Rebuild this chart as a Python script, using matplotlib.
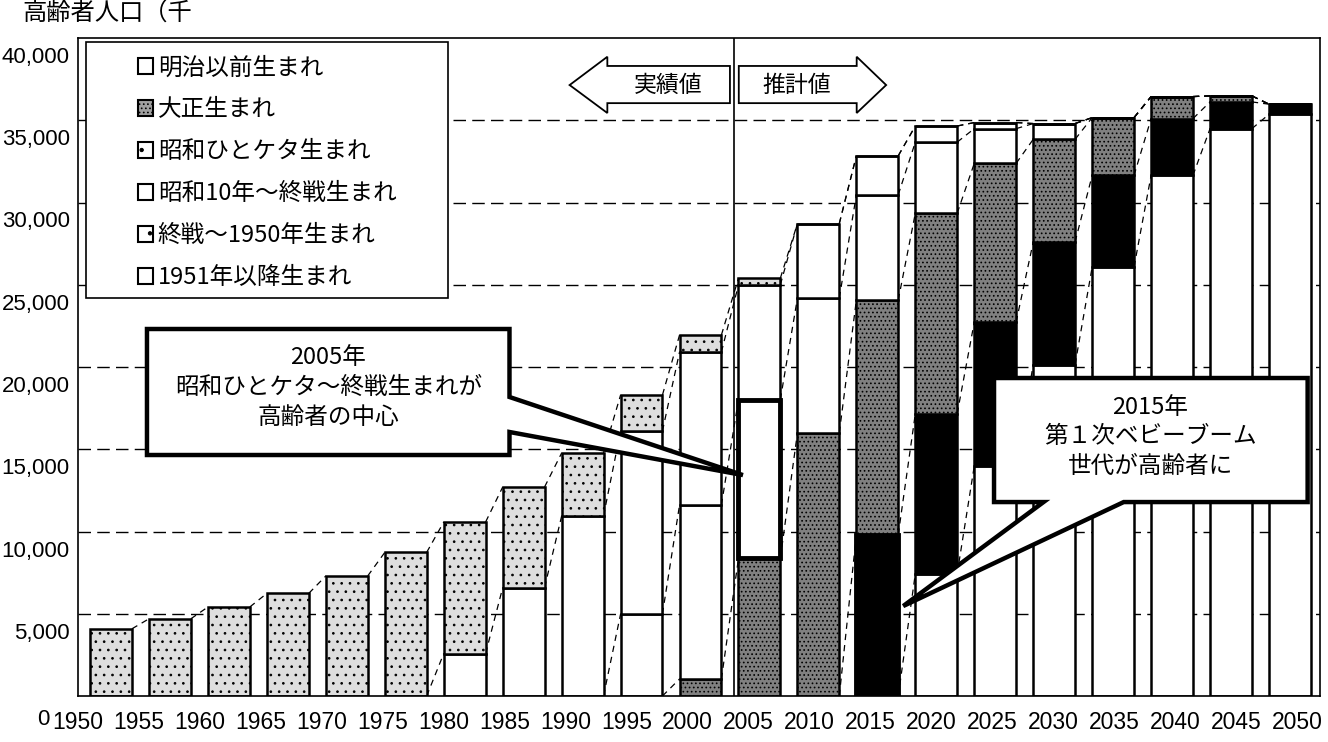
import matplotlib
matplotlib.use('Agg')
import numpy as np
import matplotlib.pyplot as plt
from matplotlib.patches import Polygon, Rectangle, Patch
from matplotlib.transforms import ScaledTranslation

plt.rcParams['font.family'] = ['Noto Sans CJK JP', 'DejaVu Sans']
plt.rcParams['hatch.linewidth'] = 0.7

years = [1950, 1955, 1960, 1965, 1970, 1975, 1980, 1985, 1990, 1995, 2000,
         2005, 2010, 2015, 2020, 2025, 2030, 2035, 2040, 2045, 2050]

# elderly population by birth cohort (thousands), bottom of stack first
born_1951_later = [0] * 14 + [7440, 13980, 20150, 26075, 31650, 34490, 35365]
born_1945_1950 = [0] * 13 + [9810, 9720, 8750, 7450, 5575, 3450, 1625, 610]
born_1935_1945 = [0] * 10 + [1034, 8370, 16000, 14260, 12190, 9650, 6240, 3510, 1340, 365, 0]
born_1926_1934 = [0] * 9 + [4985, 10577, 9650, 8190, 6400, 4320, 2110, 960] + [0] * 4
born_taisho = [0] * 6 + [2583, 6590, 10942, 11124, 9301, 6980, 4530, 2370, 980, 370] + [0] * 5
born_meiji = [4085, 4695, 5413, 6240, 7300, 8730, 7995, 6115, 3830, 2190, 1033, 400] + [0] * 9

stack = [born_1951_later, born_1945_1950, born_1935_1945, born_1926_1934, born_taisho, born_meiji]
legend_labels = ['明治以前生まれ', '大正生まれ', '昭和ひとケタ生まれ',
                 '昭和10年～終戦生まれ', '終戦～1950年生まれ', '1951年以降生まれ']

# fills for each cohort, same order as stack
fills = [
    dict(facecolor='white', hatch=None),
    dict(facecolor='black', hatch=None),
    dict(facecolor='#808080', hatch='....'),
    dict(facecolor='white', hatch=None),
    dict(facecolor='white', hatch=None),
    dict(facecolor='#dedede', hatch='..'),
]

fig = plt.figure(figsize=(13.28, 7.42), dpi=100)
ax = fig.add_axes([78 / 1328, 46 / 742, 1242 / 1328, 658 / 742])

x = np.arange(len(years))
w = 0.71
data = np.array(stack, dtype=float)
cum = np.cumsum(data, axis=0)
bottoms = cum - data

for k in range(len(stack)):
    ax.bar(x, data[k], w, bottom=bottoms[k], edgecolor='black', linewidth=1.8,
           zorder=2, **fills[k])

# highlighted segments: 2005 昭和ひとケタ, 2015 終戦～1950
i05 = years.index(2005)
ax.bar(x[i05], data[3][i05], w, bottom=bottoms[3][i05], facecolor='none',
       edgecolor='black', linewidth=3.5, zorder=3)
i15 = years.index(2015)
ax.bar(x[i15], data[1][i15], w, bottom=bottoms[1][i15], facecolor='black',
       edgecolor='black', linewidth=3.5, zorder=3)

# series lines between bars
for k in range(len(stack)):
    for i in range(len(years) - 1):
        y0, y1 = cum[k][i], cum[k][i + 1]
        if y0 == 0 and y1 == 0:
            continue
        ax.plot([x[i] + w / 2, x[i + 1] - w / 2], [y0, y1], color='black',
                linewidth=0.9, dashes=(5, 4), zorder=1.5)

yticks = np.arange(0, 40001, 5000)
for yv in yticks[1:-1]:
    ax.axhline(yv, color='black', linewidth=1.0, dashes=(9, 4.5), zorder=0)

ax.set_xlim(-0.49, 20.51)
ax.set_ylim(0, 40000)
# the scanned label row is slightly wider than the bar row
ax.set_xticks(x * 1.034 - 0.56)
ax.set_xticklabels([str(y) for y in years], family=['Liberation Sans'], fontsize=16.5)
ax.set_yticks(yticks)
ax.set_yticklabels([f'{v:,}' for v in yticks], family=['Liberation Sans'], fontsize=16)
ax.tick_params(axis='x', length=0, pad=11)
ax.tick_params(axis='y', length=0, pad=6)
offset = ScaledTranslation(0, -17 / 100, fig.dpi_scale_trans)
for lab in ax.get_yticklabels():
    lab.set_transform(lab.get_transform() + offset)
zero_lab = ax.get_yticklabels()[0]
zero_lab.set_transform(zero_lab.get_transform() + ScaledTranslation(-20 / 100, -4 / 100, fig.dpi_scale_trans))
for s in ax.spines.values():
    s.set_linewidth(1.2)

# actual / projected divider and block arrows
ax.axvline(10.57, color='black', linewidth=1.2, zorder=1)
left_arrow = [(7.78, 37140), (8.42, 38860), (8.42, 38300), (10.50, 38300),
              (10.50, 36040), (8.42, 36040), (8.42, 35440)]
right_arrow = [(10.65, 38300), (12.65, 38300), (12.65, 38860), (13.15, 37140),
               (12.65, 35440), (12.65, 36040), (10.65, 36040)]
for pts in (left_arrow, right_arrow):
    ax.add_patch(Polygon(pts, closed=True, facecolor='white', edgecolor='black',
                         linewidth=1.3, zorder=4))
ax.text(9.45, 37140, '実績値', ha='center', va='center', fontsize=16.5, zorder=5)
ax.text(11.63, 37140, '推計値', ha='center', va='center', fontsize=16.5, zorder=5)

# callouts
callout1 = [(0.61, 22310), (6.76, 22310), (6.76, 18176), (10.72, 13430),
            (6.76, 16049), (6.76, 14650), (0.61, 14650)]
callout2 = [(14.98, 19330), (20.30, 19330), (20.30, 11790), (17.18, 11790),
            (13.44, 5470), (15.82, 11790), (14.98, 11790)]
for pts in (callout1, callout2):
    ax.add_patch(Polygon(pts, closed=True, facecolor='white', edgecolor='black',
                         linewidth=3.2, joinstyle='miter', zorder=6))
ax.text(3.69, 18750, '2005年\n昭和ひとケタ～終戦生まれが\n高齢者の中心', ha='center',
        va='center', fontsize=17, linespacing=1.38, zorder=7)
ax.text(17.63, 15750, '2015年\n第１次ベビーブーム\n世代が高齢者に', ha='center',
        va='center', fontsize=17, linespacing=1.38, zorder=7)

# legend
ax.add_patch(Rectangle((0.0064, 0.605), 0.2915, 0.389, transform=ax.transAxes,
                       facecolor='white', edgecolor='black', linewidth=1.2, zorder=8))
handle_style = [('white', None), ('#a0a0a0', '....'), ('white', '.'),
                ('white', None), ('white', '.'), ('white', None)]
handles = [Patch(facecolor=fc, edgecolor='black', linewidth=1.5, hatch=h)
           for fc, h in handle_style]
ax.legend(handles, legend_labels, loc='center left', bbox_to_anchor=(0.0386, 0.795),
          frameon=False, fontsize=17, borderpad=0, handlelength=0.65, handleheight=0.65,
          handletextpad=0.2, labelspacing=0.8).set_zorder(9)

fig.text(22 / 1328, 1 - 14 / 742, '高齢者人口（千', ha='left', va='center', fontsize=17.5)

fig.savefig('out.png', dpi=100)
